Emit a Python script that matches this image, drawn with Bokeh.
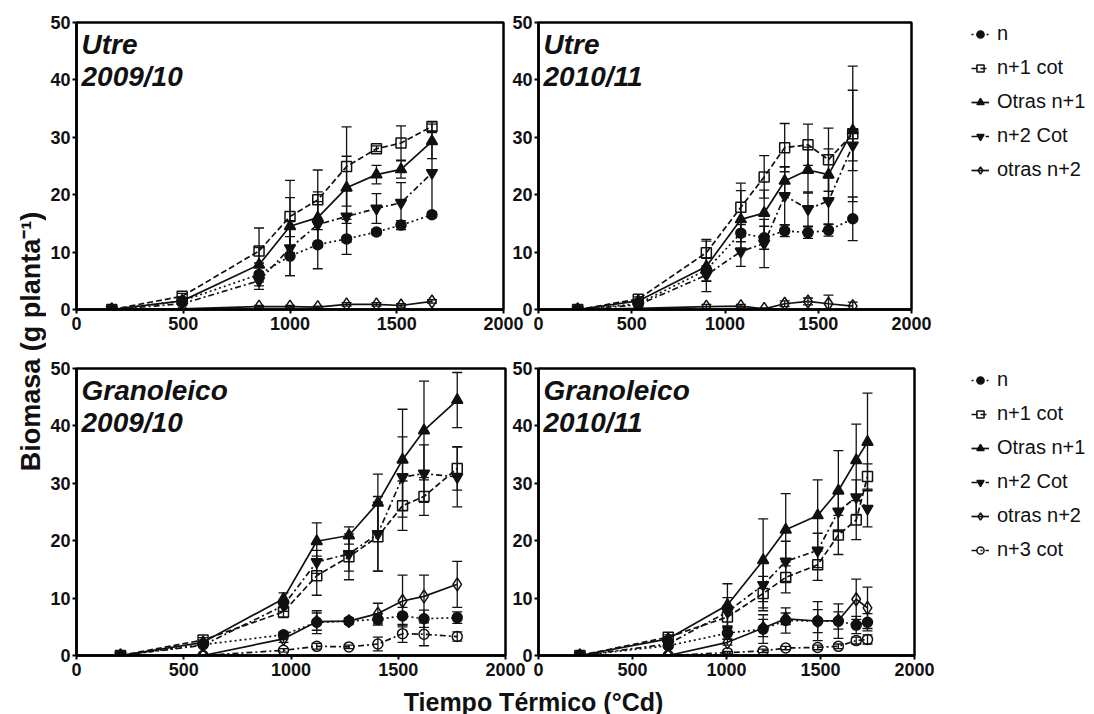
import math
from bokeh.plotting import figure
from bokeh.models import (ColumnDataSource, Range1d, FixedTicker, Whisker, TeeHead,
                          Label, Legend, LegendItem)
from bokeh.layouts import row, column
from bokeh.embed import file_html
from bokeh.resources import INLINE

# ---------------- data ----------------
series_names = ["n", "n+1 cot", "Otras n+1", "n+2 Cot", "otras n+2", "n+3 cot"]
x_ticks = [0, 500, 1000, 1500, 2000]
y_ticks = [0, 10, 20, 30, 40, 50]
x_label = "Tiempo Térmico (°Cd)"
y_label = "Biomasa (g planta⁻¹)"

# Utre 2009/10
utre_0910_t = [165, 495, 855, 1000, 1130, 1265, 1405, 1520, 1665]
utre_0910_n = [0, 1.5, 6.1, 9.3, 11.3, 12.3, 13.5, 14.7, 16.5]
utre_0910_n_err = [0, 0.3, 2.0, 3.4, 4.2, 2.7, 0.5, 0.8, 0.5]
utre_0910_n1cot = [0, 2.3, 10.2, 16.2, 19.1, 24.9, 28.0, 29.0, 31.9]
utre_0910_n1cot_err = [0, 0.5, 4.0, 6.3, 5.2, 6.9, 0.5, 3.0, 0.8]
utre_0910_otras1 = [0, 1.5, 7.8, 14.5, 16.0, 21.2, 23.5, 24.4, 29.3]
utre_0910_otras1_err = [0, 0.4, 3.0, 5.0, 4.5, 5.5, 1.6, 1.5, 3.0]
utre_0910_n2cot = [0, 1.0, 5.0, 10.7, 14.8, 16.2, 17.6, 18.6, 23.8]
utre_0910_n2cot_err = [0, 0.3, 1.5, 4.8, 4.0, 4.5, 2.6, 3.5, 7.0]
utre_0910_otras2 = [0, 0.1, 0.5, 0.5, 0.4, 0.9, 0.9, 0.7, 1.4]
utre_0910_otras2_err = [0, 0, 0.2, 0.2, 0.2, 0.3, 0.3, 0.3, 0.3]

# Utre 2010/11
utre_1011_t = [210, 535, 900, 1085, 1210, 1320, 1445, 1555, 1685]
utre_1011_n = [0, 1.0, 6.9, 13.3, 12.5, 13.7, 13.4, 13.8, 15.8]
utre_1011_n_err = [0, 0.3, 2.0, 1.5, 2.0, 1.0, 1.0, 1.0, 3.8]
utre_1011_n1cot = [0, 1.8, 9.9, 17.8, 23.1, 28.2, 28.7, 26.1, 30.6]
utre_1011_n1cot_err = [0, 0.4, 2.3, 4.2, 3.7, 4.2, 3.6, 5.5, 11.8]
utre_1011_otras1 = [0, 1.5, 7.5, 15.7, 16.8, 22.4, 24.3, 23.5, 31.2]
utre_1011_otras1_err = [0, 0.3, 4.4, 5.0, 4.0, 2.5, 4.0, 4.5, 7.0]
utre_1011_n2cot = [0, 0.8, 6.0, 10.1, 11.5, 19.8, 17.5, 18.9, 28.6]
utre_1011_n2cot_err = [0, 0.3, 1.0, 2.6, 4.2, 5.0, 3.0, 4.0, 2.7]
utre_1011_otras2 = [0, 0.2, 0.5, 0.6, 0.1, 1.0, 1.4, 1.0, 0.6]
utre_1011_otras2_err = [0, 0, 0.4, 0.3, 0.2, 0.5, 0.6, 1.5, 0.7]

# Granoleico 2009/10
gran_0910_t = [205, 590, 965, 1120, 1270, 1405, 1520, 1620, 1775]
gran_0910_n = [0, 1.9, 3.6, 5.8, 6.0, 6.3, 6.9, 6.4, 6.6]
gran_0910_n_err = [0, 0.3, 0.5, 2.0, 0.5, 1.0, 1.5, 1.5, 1.0]
gran_0910_n1cot = [0, 2.7, 7.6, 13.9, 17.2, 20.7, 26.1, 27.7, 32.6]
gran_0910_n1cot_err = [0, 0.4, 1.0, 3.4, 4.0, 6.0, 4.3, 3.3, 3.8]
gran_0910_otras1 = [0, 2.3, 9.9, 19.9, 20.9, 26.6, 34.1, 39.2, 44.5]
gran_0910_otras1_err = [0, 0.4, 1.0, 3.2, 1.5, 5.0, 8.8, 8.6, 4.8]
gran_0910_n2cot = [0, 1.8, 8.7, 16.3, 17.7, 21.2, 31.1, 31.7, 31.1]
gran_0910_n2cot_err = [0, 0.3, 1.0, 2.0, 3.0, 6.5, 7.0, 5.0, 5.2]
gran_0910_otras2 = [0, 0.0, 2.9, 5.9, 6.0, 7.3, 9.5, 10.3, 12.4]
gran_0910_otras2_err = [0, 0.1, 0.6, 1.5, 0.5, 1.8, 4.5, 3.7, 4.0]
gran_0910_n3cot = [0, 0.0, 0.9, 1.6, 1.5, 2.0, 3.8, 3.7, 3.3]
gran_0910_n3cot_err = [0, 0, 0.3, 0.5, 0.3, 1.2, 1.5, 2.0, 0.8]

# Granoleico 2010/11
gran_1011_t = [220, 690, 1005, 1195, 1315, 1485, 1595, 1690, 1750]
gran_1011_n = [0, 1.7, 3.9, 4.6, 6.1, 6.0, 6.0, 5.3, 5.8]
gran_1011_n_err = [0, 0.3, 1.0, 2.5, 2.2, 3.4, 3.0, 1.5, 1.5]
gran_1011_n1cot = [0, 3.2, 6.7, 10.8, 13.6, 15.8, 21.0, 23.6, 31.2]
gran_1011_n1cot_err = [0, 0.4, 2.0, 3.0, 2.7, 2.7, 3.4, 3.4, 2.2]
gran_1011_otras1 = [0, 2.9, 8.8, 16.6, 21.9, 24.4, 28.7, 34.0, 37.2]
gran_1011_otras1_err = [0, 0.4, 3.7, 7.2, 6.3, 6.2, 7.0, 6.3, 8.5]
gran_1011_n2cot = [0, 2.0, 7.6, 12.3, 16.4, 18.3, 25.1, 27.6, 25.6]
gran_1011_n2cot_err = [0, 0.3, 2.5, 4.0, 3.5, 3.0, 3.5, 3.0, 3.2]
gran_1011_otras2 = [0, 0.0, 2.3, 4.8, 6.4, 6.0, 6.1, 9.8, 8.3]
gran_1011_otras2_err = [0, 0, 0.5, 1.5, 1.0, 2.0, 1.5, 3.5, 3.6]
gran_1011_n3cot = [0, 0.0, 0.5, 0.8, 1.3, 1.4, 1.6, 2.6, 2.8]
gran_1011_n3cot_err = [0, 0, 0.2, 0.3, 0.3, 0.4, 0.4, 0.6, 0.8]

# ---------------- styles ----------------
FONT = "Liberation Sans"
INK = "#111111"
STYLE = {
    "n": dict(marker="circle", fill=INK, dash="2 3", size=10),
    "n+1 cot": dict(marker="square", fill=None, dash="6 3", size=10),
    "Otras n+1": dict(marker="triangle", fill=INK, dash="solid", size=11),
    "n+2 Cot": dict(marker="inverted_triangle", fill=INK, dash="6 3 2 3", size=11),
    "otras n+2": dict(marker="diamond", fill=None, dash="solid", size=13),
    "n+3 cot": dict(marker="circle", fill=None, dash="6 3 2 3", size=10),
}


def make_panel(t, series, title1, title2, fw, fh, bl, br, bt, bb):
    p = figure(frame_width=fw, frame_height=fh, x_range=Range1d(0, 2000), y_range=Range1d(0, 50),
               output_backend="svg", toolbar_location=None, title_location=None,
               min_border_left=bl, min_border_right=br, min_border_top=bt, min_border_bottom=bb)
    p.xgrid.visible = False
    p.ygrid.visible = False
    p.outline_line_color = "black"
    p.outline_line_width = 2.5
    p.outline_line_alpha = 1.0
    p.border_fill_color = None
    p.xaxis.ticker = FixedTicker(ticks=x_ticks)
    p.yaxis.ticker = FixedTicker(ticks=y_ticks)
    for ax in (p.xaxis[0], p.yaxis[0]):
        ax.axis_line_width = 2.5
        ax.axis_line_color = "black"
        ax.major_tick_line_width = 2
        ax.major_tick_line_color = "black"
        ax.major_tick_in = 0
        ax.major_tick_out = 4
        ax.minor_tick_in = 0
        ax.minor_tick_out = 0
        ax.major_label_text_font = FONT
        ax.major_label_text_font_size = "18px"
        ax.major_label_text_font_style = "bold"
        ax.major_label_text_color = INK
    p.xaxis.major_label_standoff = 3
    p.yaxis.major_label_standoff = 2

    sources = []
    for name, y, err in series:
        st = STYLE[name]
        src = ColumnDataSource(dict(x=t, y=y))
        sources.append((name, src))
        wx = [a for a, e in zip(t, err) if e > 0]
        wu = [b + e for b, e in zip(y, err) if e > 0]
        wl = [b - e for b, e in zip(y, err) if e > 0]
        wsrc = ColumnDataSource(dict(x=wx, up=wu, lo=wl))
        p.add_layout(Whisker(base="x", upper="up", lower="lo", source=wsrc,
                             line_color=INK, line_width=1.3,
                             upper_head=TeeHead(size=10, line_width=1.3, line_color=INK),
                             lower_head=TeeHead(size=10, line_width=1.3, line_color=INK)))
        p.line("x", "y", source=src, line_color=INK, line_width=1.7, line_dash=st["dash"])
        p.scatter("x", "y", source=src, marker=st["marker"], size=st["size"],
                  fill_color=st["fill"], line_color=INK, line_width=1.5)

    for txt, off in ((title1, 22), (title2, 54)):
        p.add_layout(Label(x=5, y=fh - off, x_units="screen", y_units="screen", text=txt,
                           text_font=FONT, text_font_size="28px", text_font_style="bold italic",
                           text_color=INK, text_baseline="alphabetic"))
    return p, sources


def legend_fig(sources, w, h, left, top, bottom, pad):
    # legend-only figure: it shares the panel's data sources, viewed outside their range
    f = figure(width=w, height=h, x_range=Range1d(-2, -1), y_range=Range1d(-2, -1),
               output_backend="svg", toolbar_location=None, title_location=None,
               x_axis_location=None, y_axis_location=None,
               min_border_left=left, min_border_top=top, min_border_right=0,
               min_border_bottom=bottom, outline_line_color=None)
    f.xgrid.visible = False
    f.ygrid.visible = False
    f.border_fill_color = None
    items = []
    for name, src in sources:
        st = STYLE[name]
        ln = f.line("x", "y", source=src, line_color=INK, line_width=1.7, line_dash=st["dash"])
        sc = f.scatter("x", "y", source=src, marker=st["marker"], size=st["size"],
                       fill_color=st["fill"], line_color=INK, line_width=1.5)
        items.append(LegendItem(label=name, renderers=[ln, sc]))
    lg = Legend(items=items, location="top_left", border_line_color=None,
                background_fill_alpha=0, label_text_font=FONT, label_text_font_size="20px",
                label_text_color=INK, glyph_width=18, glyph_height=22, label_height=22,
                label_standoff=8, spacing=11, padding=pad, margin=0)
    f.add_layout(lg)
    return f


# row 1: shared top border 22, frame height 287, bottom border 36 (row height 345)
tl, tl_src = make_panel(utre_0910_t, [
    ("n", utre_0910_n, utre_0910_n_err),
    ("n+1 cot", utre_0910_n1cot, utre_0910_n1cot_err),
    ("Otras n+1", utre_0910_otras1, utre_0910_otras1_err),
    ("n+2 Cot", utre_0910_n2cot, utre_0910_n2cot_err),
    ("otras n+2", utre_0910_otras2, utre_0910_otras2_err),
], "Utre", "2009/10", 427, 287, 30, 22, 22, 36)

tr, tr_src = make_panel(utre_1011_t, [
    ("n", utre_1011_n, utre_1011_n_err),
    ("n+1 cot", utre_1011_n1cot, utre_1011_n1cot_err),
    ("Otras n+1", utre_1011_otras1, utre_1011_otras1_err),
    ("n+2 Cot", utre_1011_n2cot, utre_1011_n2cot_err),
    ("otras n+2", utre_1011_otras2, utre_1011_otras2_err),
], "Utre", "2010/11", 373, 287, 27, 22, 22, 36)
tr.margin = (0, 0, 0, -16)
tr_leg = legend_fig(tr_src, 163, 345, 38, 22, 36, 6)

# row 2: shared top border 23, frame height 287, bottom border 30 (row height 340)
bl, bl_src = make_panel(gran_0910_t, [
    ("n", gran_0910_n, gran_0910_n_err),
    ("n+1 cot", gran_0910_n1cot, gran_0910_n1cot_err),
    ("Otras n+1", gran_0910_otras1, gran_0910_otras1_err),
    ("n+2 Cot", gran_0910_n2cot, gran_0910_n2cot_err),
    ("otras n+2", gran_0910_otras2, gran_0910_otras2_err),
    ("n+3 cot", gran_0910_n3cot, gran_0910_n3cot_err),
], "Granoleico", "2009/10", 429, 287, 30, 20, 23, 30)

br, br_src = make_panel(gran_1011_t, [
    ("n", gran_1011_n, gran_1011_n_err),
    ("n+1 cot", gran_1011_n1cot, gran_1011_n1cot_err),
    ("Otras n+1", gran_1011_otras1, gran_1011_otras1_err),
    ("n+2 Cot", gran_1011_n2cot, gran_1011_n2cot_err),
    ("otras n+2", gran_1011_otras2, gran_1011_otras2_err),
    ("n+3 cot", gran_1011_n3cot, gran_1011_n3cot_err),
], "Granoleico", "2010/11", 376, 287, 27, 22, 23, 30)
br.margin = (0, 0, 0, -16)
br_leg = legend_fig(br_src, 160, 340, 35, 23, 30, 8)


def text_fig(w, h):
    f = figure(width=w, height=h, x_range=(0, 1), y_range=(0, 1), output_backend="svg",
               toolbar_location=None, title_location=None,
               x_axis_location=None, y_axis_location=None,
               min_border=0, outline_line_color=None)
    f.xgrid.visible = False
    f.ygrid.visible = False
    return f


ylab = text_fig(46, 714)
ylab.add_layout(Label(x=30, y=714 - 341, x_units="screen", y_units="screen", text=y_label,
                      angle=math.pi / 2, text_align="center", text_baseline="middle",
                      text_font=FONT, text_font_size="27px", text_font_style="bold",
                      text_color=INK))

xlab = text_fig(1048, 29)
xlab.add_layout(Label(x=487, y=13, x_units="screen", y_units="screen", text=x_label,
                      text_align="center", text_baseline="middle",
                      text_font=FONT, text_font_size="25px", text_font_style="bold",
                      text_color=INK))

layout = row(ylab, column(row(tl, tr, tr_leg), row(bl, br, br_leg), xlab))

open("out.html", "w").write(file_html(layout, INLINE))
